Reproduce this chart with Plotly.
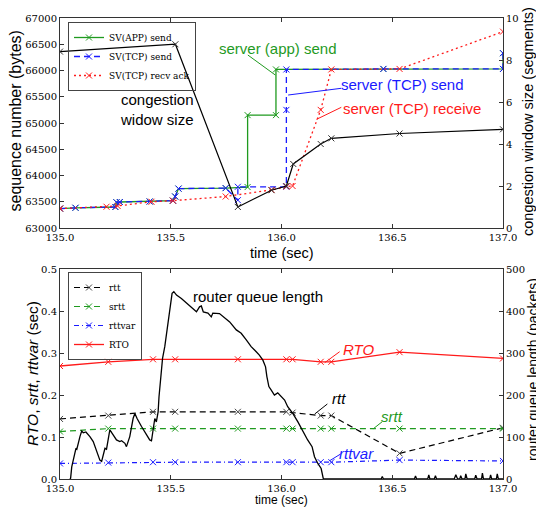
import plotly.graph_objects as go

# ---------------- top panel data ----------------
t_app = [135.0, 135.07, 135.25, 135.255, 135.27, 135.405, 135.51, 135.52, 135.535,
         135.748, 135.847, 135.847, 135.975, 135.975, 136.46, 137.0, 137.0]
seq_app = [63370, 63385, 63400, 63490, 63495, 63505, 63520, 63600, 63750,
           63760, 63780, 65150, 65150, 66020, 66030, 66030, 66330]

t_tcp = [135.0, 135.07, 135.25, 135.255, 135.27, 135.405, 135.51, 135.52, 135.535,
         135.748, 135.803, 135.803, 136.022, 136.022, 136.022, 136.46, 137.0, 137.0]
seq_tcp = [63370, 63385, 63400, 63490, 63495, 63505, 63520, 63600, 63750,
           63760, 63530, 63785, 63785, 65250, 66020, 66030, 66030, 66330]

t_ack = [135.0, 135.21, 135.26, 135.413, 135.51, 135.748, 135.955, 136.022, 136.05,
         136.177, 136.225, 136.533, 137.0]
seq_ack = [63370, 63405, 63420, 63500, 63520, 63600, 63725, 63790, 63800,
           65250, 66020, 66030, 66740]

t_cwnd = [135.0, 135.521, 135.803, 135.955, 136.022, 136.053, 136.177, 136.225, 136.533, 137.0]
cwnd = [8.4, 8.75, 1.0, 1.8, 2.0, 3.05, 4.0, 4.27, 4.5, 4.7]

# ---------------- bottom panel data ----------------
t_rtt = [135.0, 135.218, 135.42, 135.52, 135.803, 136.022, 136.05, 136.177, 136.225, 136.533, 137.0]
rtt = [0.143, 0.151, 0.160, 0.160, 0.160, 0.160, 0.158, 0.151, 0.151, 0.061, 0.122]
srtt = [0.113, 0.120, 0.120, 0.120, 0.120, 0.120, 0.120, 0.120, 0.120, 0.120, 0.120]
rttvar = [0.037, 0.039, 0.040, 0.040, 0.040, 0.040, 0.040, 0.040, 0.040, 0.045, 0.043]
rto = [0.269, 0.279, 0.285, 0.285, 0.285, 0.285, 0.285, 0.279, 0.279, 0.302, 0.287]

t_queue = [135.045, 135.048, 135.053, 135.063, 135.072, 135.076, 135.083, 135.090, 135.098, 135.105,
           135.117, 135.135, 135.150, 135.165, 135.180, 135.188, 135.195, 135.203, 135.210, 135.218,
           135.225, 135.240, 135.255, 135.270, 135.278, 135.293, 135.300, 135.315, 135.323, 135.330,
           135.338, 135.348, 135.368, 135.387, 135.405, 135.413, 135.420, 135.428, 135.435, 135.443,
           135.447, 135.453, 135.458, 135.463, 135.473, 135.483, 135.495, 135.506, 135.514, 135.526,
           135.548, 135.570, 135.593, 135.616, 135.630, 135.638, 135.647, 135.668, 135.683, 135.690,
           135.720, 135.739, 135.766, 135.796, 135.818, 135.841, 135.863, 135.886, 135.900, 135.916,
           135.928, 135.934, 135.943, 135.953, 135.968, 135.983, 135.998, 136.014, 136.028, 136.051,
           136.074, 136.096, 136.118, 136.138, 136.149, 136.164, 136.179, 136.189, 136.450, 136.455,
           136.460, 136.600, 136.605, 136.610, 136.660, 136.665, 136.670, 136.690, 136.695, 136.700,
           136.780, 136.787, 136.795, 136.805, 136.809, 136.815, 136.828, 136.832, 136.838, 136.872,
           136.877, 136.883, 136.903, 136.907, 136.912, 136.940, 136.944, 136.949, 136.970, 136.974,
           136.979, 137.0]
queue = [0, 2, 29, 53, 73, 71, 89, 101, 114, 110,
         112, 101, 89, 65, 45, 42, 57, 73, 71, 93,
         117, 105, 93, 89, 91, 85, 77, 101, 129, 144,
         156, 144, 125, 109, 93, 91, 121, 144, 136, 160,
         196, 228, 260, 287, 315, 355, 402, 442, 446, 438,
         430, 420, 410, 398, 410, 412, 398, 395, 386, 395,
         394, 386, 374, 355, 347, 331, 315, 303, 295, 283,
         267, 244, 220, 212, 200, 205, 196, 188, 172, 156,
         136, 113, 93, 77, 53, 37, 25, 0, 0, 6,
         0, 0, 7, 0, 0, 10, 0, 0, 8, 0,
         0, 10, 0, 0, 8, 0, 0, 12, 0, 0,
         9, 0, 0, 14, 0, 0, 10, 0, 0, 12,
         0, 0]

x_tickvals = [135.0, 135.5, 136.0, 136.5, 137.0]
x_ticktext = ["135.0", "135.5", "136.0", "136.5", "137.0"]

# the page body adds an 8px offset; the figure covers the rest of the window
OFF = 8
W, H = 544 - OFF, 509 - OFF


def px(x):
    return (x - OFF) / W


def py(y):
    return 1 - (y - OFF) / H


GREEN = "#1f9a1f"
BLUE = "#1a1aff"
RED = "#ff1a1a"
SANS = "Liberation Sans"
SERIF = "DejaVu Serif"


def mk(color):
    return dict(symbol="x-thin", size=6, color=color, line=dict(width=1, color=color))


fig = go.Figure()

# top panel
fig.add_trace(go.Scatter(x=t_app, y=seq_app, mode="lines+markers", name="SV(APP) send",
                         line=dict(color=GREEN, width=1.3), marker=mk(GREEN),
                         xaxis="x", yaxis="y", legend="legend"))
fig.add_trace(go.Scatter(x=t_tcp, y=seq_tcp, mode="lines+markers", name="SV(TCP) send",
                         line=dict(color=BLUE, width=1.3, dash="6px,4px"), marker=mk(BLUE),
                         xaxis="x", yaxis="y", legend="legend"))
fig.add_trace(go.Scatter(x=t_ack, y=seq_ack, mode="lines+markers", name="SV(TCP) recv ack",
                         line=dict(color=RED, width=1.3, dash="2px,3px"), marker=mk(RED),
                         xaxis="x", yaxis="y", legend="legend"))
fig.add_trace(go.Scatter(x=t_cwnd, y=cwnd, mode="lines+markers", name="cwnd", showlegend=False,
                         line=dict(color="black", width=1.2), marker=mk("#333"),
                         xaxis="x", yaxis="y3"))

# bottom panel
fig.add_trace(go.Scatter(x=t_rtt, y=rtt, mode="lines+markers", name="rtt",
                         line=dict(color="black", width=1.2, dash="6px,4px"), marker=mk("#444"),
                         xaxis="x2", yaxis="y2", legend="legend2"))
fig.add_trace(go.Scatter(x=t_rtt, y=srtt, mode="lines+markers", name="srtt",
                         line=dict(color=GREEN, width=1.2, dash="6px,4px"), marker=mk(GREEN),
                         xaxis="x2", yaxis="y2", legend="legend2"))
fig.add_trace(go.Scatter(x=t_rtt, y=rttvar, mode="lines+markers", name="rttvar",
                         line=dict(color=BLUE, width=1.2, dash="5px,3px,1px,3px"), marker=mk(BLUE),
                         xaxis="x2", yaxis="y2", legend="legend2"))
fig.add_trace(go.Scatter(x=t_rtt, y=rto, mode="lines+markers", name="RTO",
                         line=dict(color=RED, width=1.3), marker=mk(RED),
                         xaxis="x2", yaxis="y2", legend="legend2"))
fig.add_trace(go.Scatter(x=t_queue, y=queue, mode="lines", name="queue", showlegend=False,
                         line=dict(color="black", width=1.3),
                         xaxis="x2", yaxis="y4"))

XD = [px(60), px(503)]
YD_TOP = [py(228), py(18)]
YD_BOT = [py(479), py(269)]
AX = "#333"
tickfont = dict(family=SERIF, size=10, color="black")

xcommon = dict(range=[135, 137], tickvals=x_tickvals, ticktext=x_ticktext, ticks="inside",
               ticklen=4, tickcolor=AX, showline=True, linecolor=AX, linewidth=1,
               mirror="ticks", showgrid=False, zeroline=False, tickfont=tickfont, domain=XD,
               automargin=False)
ycommon = dict(ticks="inside", ticklen=4, tickcolor=AX, showline=True, linecolor=AX, linewidth=1,
               showgrid=False, zeroline=False, tickfont=tickfont, automargin=False)

legend_common = dict(xanchor="left", yanchor="top", bgcolor="rgba(255,255,255,0)",
                     bordercolor="#444", borderwidth=1,
                     font=dict(family=SERIF, size=9, color="black"), tracegroupgap=0,
                     itemwidth=30)

fig.update_layout(
    width=W, height=H, autosize=False,
    margin=dict(l=0, r=0, t=0, b=0, autoexpand=False),
    paper_bgcolor="white", plot_bgcolor="white",
    xaxis=dict(**xcommon, anchor="y"),
    xaxis2=dict(**xcommon, anchor="y2"),
    yaxis=dict(**ycommon, domain=YD_TOP, range=[63000, 67000], dtick=500, tickformat="d",
               anchor="x", mirror=True),
    yaxis3=dict(**ycommon, range=[0, 10], dtick=2, overlaying="y", side="right", anchor="x"),
    yaxis2=dict(**ycommon, domain=YD_BOT, range=[0, 0.5], dtick=0.1, tickformat=".1f",
                anchor="x2", mirror=True),
    yaxis4=dict(**ycommon, range=[0, 500], dtick=100, overlaying="y2", side="right", anchor="x2"),
    legend=dict(x=px(68), y=py(22), **legend_common),
    legend2=dict(x=px(68), y=py(272), **legend_common),
    showlegend=True,
)


def title(x, y, text, size=14.5, angle=0, yanchor="middle"):
    return dict(xref="paper", yref="paper", x=px(x), y=py(y), text=text, textangle=angle,
                xanchor="center", yanchor=yanchor, showarrow=False,
                font=dict(family=SANS, size=size, color="black"))


ann = [
    title(15.5, 121, "sequence number (bytes)", 16, -90),
    title(528, 122, "congestion window size (segments)", 14.5, -90),
    title(281.5, 253, "time (sec)", 14.5),
    title(32, 374, "<i>RTO</i>, <i>srtt</i>, <i>rttvar</i> (sec)", 15.5, -90),
    title(533, 370, "router queue length (packets)", 14, -90),
    title(281.5, 509.4, "time (sec)", 12, yanchor="bottom"),
]


def lab(xref, yref, x, y, text, color):
    return dict(xref=xref, yref=yref, x=x, y=y, text=text, showarrow=False, align="center",
                xanchor="center", yanchor="middle",
                font=dict(family=SANS, size=15, color=color))


# top panel labels
ann += [
    lab("x", "y", 135.437, 65248, "congestion<br>widow size", "black"),
    lab("x", "y", 135.986, 66423, "server (app) send", GREEN),
    lab("x", "y", 136.545, 65724, "server (TCP) send", BLUE),
    lab("x", "y", 136.589, 65280, "server (TCP) receive", RED),
]
# bottom panel labels
ann += [
    lab("x2", "y2", 135.892, 0.4357, "router queue length", "black"),
    lab("x2", "y2", 136.3455, 0.3088, "<i>RTO</i>", RED),
    lab("x2", "y2", 136.259, 0.1921, "<i>rtt</i>", "black"),
    lab("x2", "y2", 136.501, 0.1484, "<i>srtt</i>", GREEN),
    lab("x2", "y2", 136.338, 0.0612, "<i>rttvar</i>", BLUE),
]

shapes = [
    dict(type="line", xref="x", yref="y", x0=135.848, y0=66295, x1=135.972, y1=65914,
         line=dict(color=GREEN, width=1)),
    dict(type="line", xref="x", yref="y", x0=136.030, y0=65533, x1=136.270, y1=65661,
         line=dict(color=BLUE, width=1)),
    dict(type="line", xref="x", yref="y", x0=136.158, y0=65070, x1=136.270, y1=65299,
         line=dict(color=RED, width=1)),
    dict(type="line", xref="x2", yref="y2", x0=136.195, y0=0.2769, x1=136.2626, y1=0.3031,
         line=dict(color=RED, width=1)),
    dict(type="line", xref="x2", yref="y2", x0=136.150, y0=0.1548, x1=136.207, y1=0.1786,
         line=dict(color="black", width=1)),
    dict(type="line", xref="x2", yref="y2", x0=136.413, y0=0.119, x1=136.455, y1=0.1365,
         line=dict(color=GREEN, width=1)),
    dict(type="line", xref="x2", yref="y2", x0=136.218, y0=0.0437, x1=136.267, y1=0.0595,
         line=dict(color=BLUE, width=1)),
]

fig.update_layout(annotations=ann, shapes=shapes)
fig.write_html("out.html")
